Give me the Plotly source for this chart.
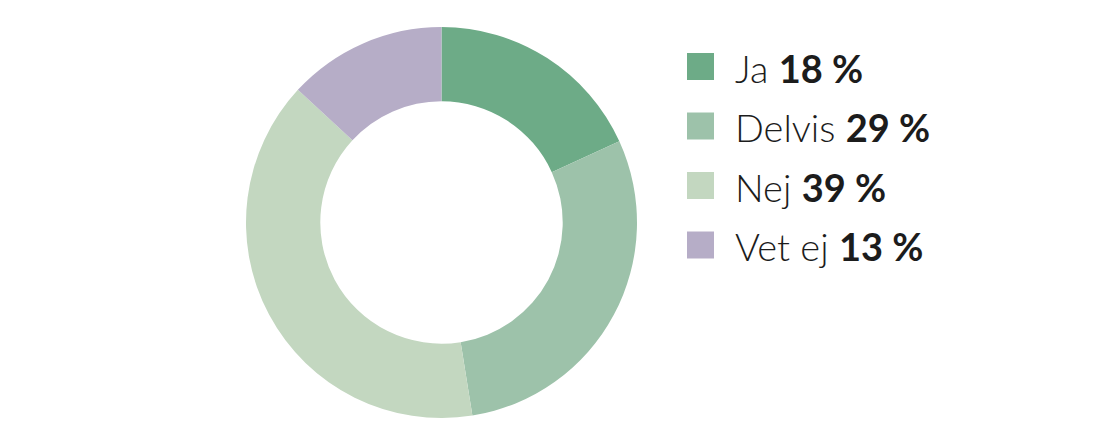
import plotly.graph_objects as go

# page has an 8px body margin; the figure is sized to fit inside the window
OFF = 8
W, H = 1104 - 2 * OFF, 448 - 2 * OFF

labels = ["Ja", "Delvis", "Nej", "Vet ej"]
values = [18, 29, 39, 13]
pct_labels = ["18 %", "29 %", "39 %", "13 %"]
colors = ["#6dab87", "#9dc2aa", "#c3d7c0", "#b6adc7"]

# pie geometry (window pixels)
cx, cy, r = 441.5 - OFF, 222.5 - OFF, 195.5

fig = go.Figure()
fig.add_trace(go.Pie(
    labels=labels,
    values=values,
    hole=0.62,
    sort=False,
    direction="clockwise",
    rotation=0,
    textinfo="none",
    hoverinfo="label+percent",
    marker=dict(colors=colors, line=dict(width=0)),
    domain=dict(x=[(cx - r) / W, (cx + r) / W], y=[(H - (cy + r)) / H, (H - (cy - r)) / H]),
    showlegend=False,
))

# custom legend
sq = 27
x0 = 687 - OFF
y_start = 66.5 - OFF
step = 59.5
shapes = []
annotations = []
for i, (lab, pct, col) in enumerate(zip(labels, pct_labels, colors)):
    yc = y_start + i * step
    shapes.append(dict(
        type="rect", xref="paper", yref="paper",
        x0=x0 / W, x1=(x0 + sq) / W,
        y0=1 - (yc + sq / 2) / H, y1=1 - (yc - sq / 2) / H,
        fillcolor=col, line=dict(width=0),
    ))
    annotations.append(dict(
        xref="paper", yref="paper",
        x=(733 - OFF) / W, y=1 - (yc + 1) / H,
        xanchor="left", yanchor="middle",
        text=f"{lab} <b>{pct}</b>",
        showarrow=False,
        font=dict(family="Lato", size=38, color="#1c1c1c", weight=300),
    ))

fig.update_layout(
    width=W, height=H,
    margin=dict(l=0, r=0, t=0, b=0),
    paper_bgcolor="#ffffff",
    plot_bgcolor="#ffffff",
    shapes=shapes,
    annotations=annotations,
)

fig.write_html("out.html")
